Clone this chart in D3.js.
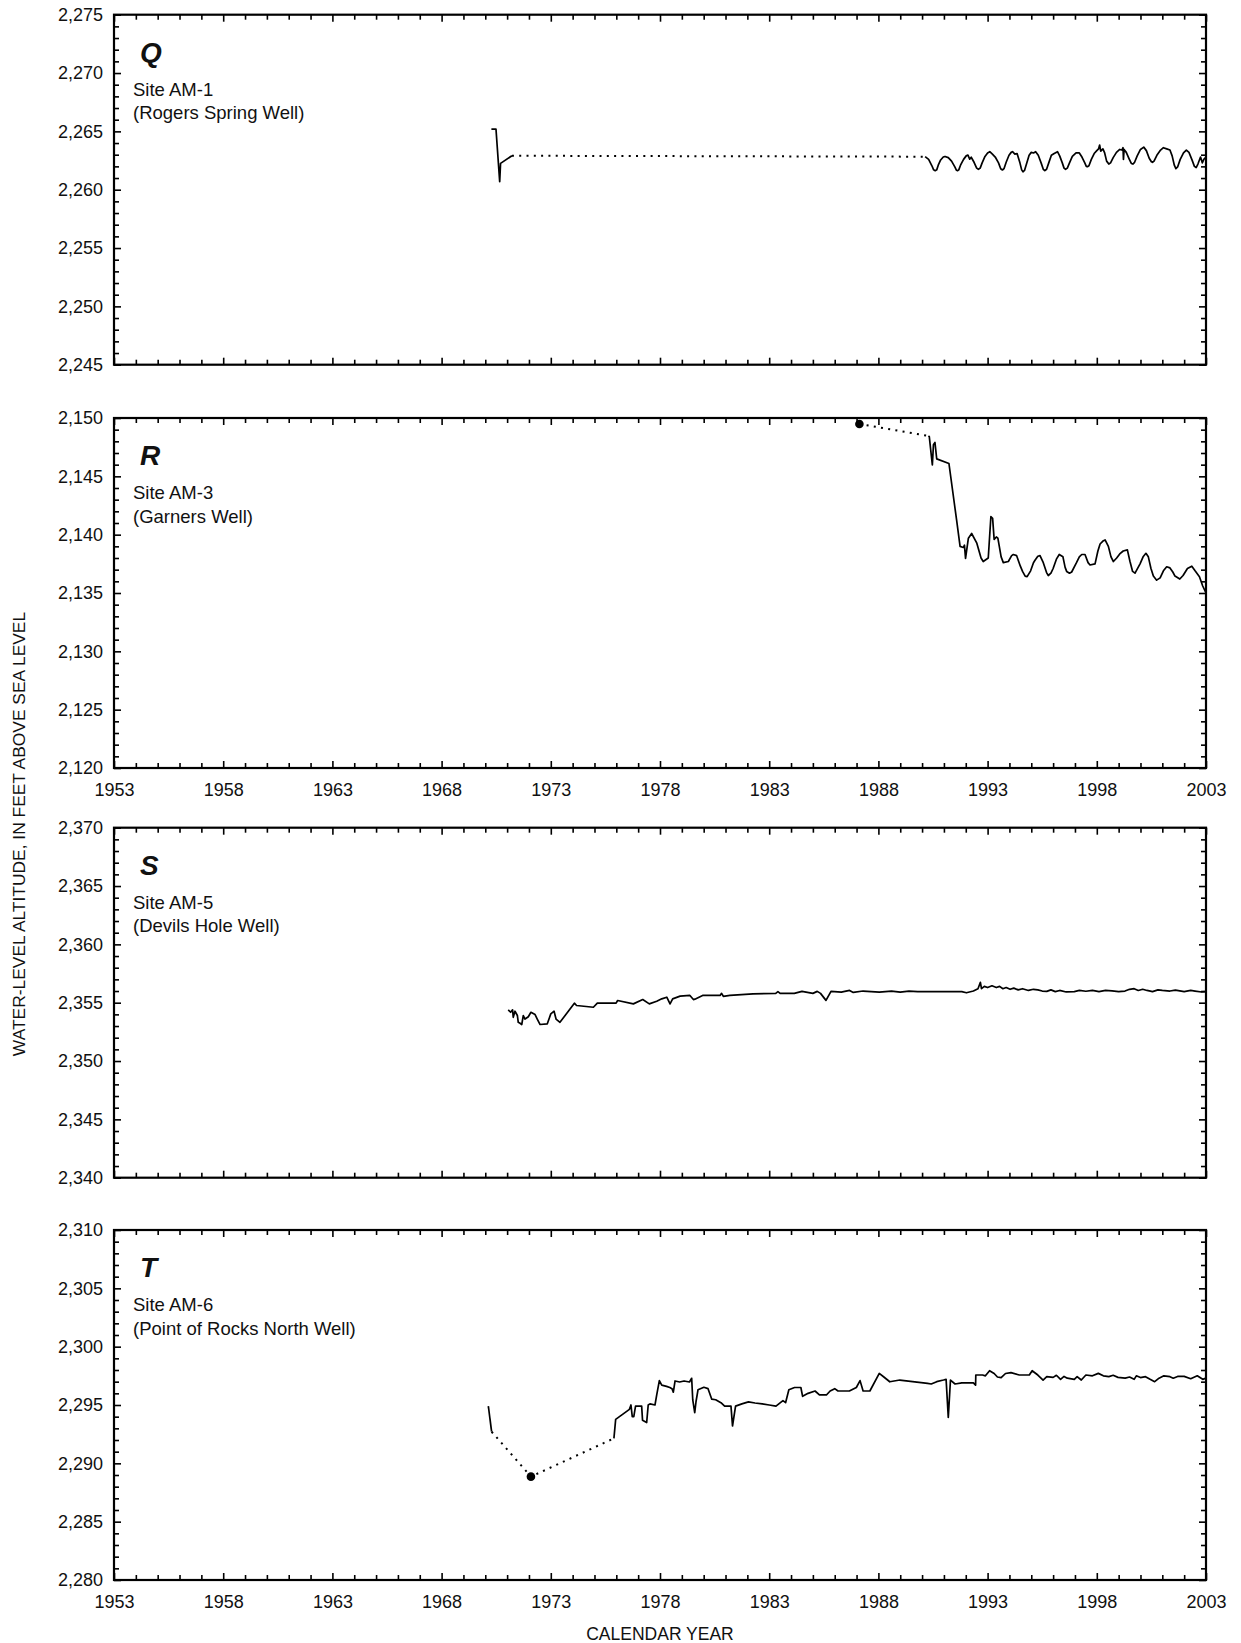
<!DOCTYPE html>
<html><head><meta charset="utf-8">
<script src="https://cdn.jsdelivr.net/npm/d3@7"></script>
<style>
html,body{margin:0;padding:0;background:#fff;}
svg{display:block;font-family:"Liberation Sans",Arial,Helvetica,sans-serif;}
</style></head>
<body>
<script>
// ---------- DATA ----------
const yearDomain = [1953, 2003];
const yearTickLabels = [1953, 1958, 1963, 1968, 1973, 1978, 1983, 1988, 1993, 1998, 2003];
const panelLetters = ["Q", "R", "S", "T"];
const siteNames = ["Site AM-1", "Site AM-3", "Site AM-5", "Site AM-6"];
const wellNames = ["(Rogers Spring Well)", "(Garners Well)", "(Devils Hole Well)", "(Point of Rocks North Well)"];
const yDomains = [[2245, 2275], [2120, 2150], [2340, 2370], [2280, 2310]];

// Panel Q — Site AM-1
const qSolidA = [[1970.28,2265.2],[1970.49,2265.2],[1970.66,2260.69],[1970.7,2262.26],[1971.22,2262.91]];
const qDotted = [[1971.22,2262.91],[1990.14,2262.83]];
const qSolidB = [[1990.14,2262.83],[1990.3,2262.6],[1990.45,2262.05],[1990.53,2261.7],[1990.6,2261.63],[1990.67,2261.7],[1990.74,2262.1],[1990.85,2262.55],[1990.97,2262.8],[1991.05,2262.85],[1991.2,2262.75],[1991.35,2262.45],[1991.5,2261.95],[1991.57,2261.68],[1991.62,2261.63],[1991.68,2261.7],[1991.76,2262.1],[1991.9,2262.6],[1992.02,2262.9],[1992.1,2262.97],[1992.18,2262.62],[1992.25,2262.78],[1992.38,2262.35],[1992.5,2261.85],[1992.58,2261.75],[1992.66,2261.85],[1992.75,2262.3],[1992.88,2262.85],[1993.0,2263.15],[1993.1,2263.26],[1993.22,2263.05],[1993.35,2262.8],[1993.5,2262.3],[1993.6,2261.8],[1993.68,2261.69],[1993.75,2261.8],[1993.85,2262.35],[1993.98,2262.95],[1994.08,2263.2],[1994.14,2263.26],[1994.25,2263.05],[1994.35,2263.1],[1994.48,2262.3],[1994.56,2261.7],[1994.62,2261.54],[1994.69,2261.65],[1994.78,2262.2],[1994.9,2262.95],[1995.0,2263.2],[1995.1,2263.15],[1995.2,2263.26],[1995.32,2262.95],[1995.45,2262.3],[1995.55,2261.75],[1995.62,2261.63],[1995.7,2261.75],[1995.8,2262.3],[1995.92,2262.95],[1996.05,2263.1],[1996.2,2263.26],[1996.3,2262.9],[1996.42,2262.3],[1996.5,2261.85],[1996.57,2261.75],[1996.65,2261.85],[1996.75,2262.3],[1996.88,2262.85],[1997.05,2263.15],[1997.2,2263.15],[1997.32,2262.8],[1997.45,2262.3],[1997.52,2262.0],[1997.57,2261.97],[1997.64,2262.05],[1997.75,2262.6],[1997.88,2263.1],[1998.0,2263.35],[1998.08,2263.5],[1998.13,2263.83],[1998.18,2263.3],[1998.28,2263.5],[1998.36,2263.15],[1998.45,2262.45],[1998.55,2262.2],[1998.63,2262.3],[1998.75,2262.75],[1998.9,2263.2],[1999.05,2263.45],[1999.15,2263.4],[1999.2,2263.6],[1999.22,2262.6],[1999.25,2263.45],[1999.35,2263.2],[1999.48,2262.65],[1999.58,2262.25],[1999.65,2262.2],[1999.73,2262.35],[1999.85,2262.9],[2000.0,2263.45],[2000.15,2263.65],[2000.27,2263.35],[2000.4,2262.7],[2000.5,2262.4],[2000.55,2262.35],[2000.62,2262.45],[2000.75,2262.95],[2000.92,2263.4],[2001.05,2263.6],[2001.2,2263.5],[2001.35,2263.4],[2001.45,2262.9],[2001.55,2262.1],[2001.62,2261.8],[2001.7,2261.95],[2001.82,2262.6],[2001.97,2263.15],[2002.1,2263.4],[2002.22,2263.2],[2002.35,2262.6],[2002.47,2262.0],[2002.55,2261.9],[2002.63,2262.2],[2002.75,2262.8],[2002.83,2262.3],[2002.9,2262.6],[2003.0,2262.8]];

// Panel R — Site AM-3
const rMarker = [[1987.13,2149.49]];
const rDotted = [[1987.13,2149.49],[1990.29,2148.46]];
const rSolid = [[1990.29,2148.46],[1990.33,2148.4],[1990.47,2145.97],[1990.52,2147.7],[1990.59,2147.9],[1990.67,2146.5],[1991.23,2146.1],[1991.58,2141.26],[1991.74,2139.0],[1991.89,2138.9],[1991.94,2139.1],[1991.99,2137.97],[1992.12,2139.7],[1992.27,2140.1],[1992.5,2139.3],[1992.7,2138.0],[1992.8,2137.7],[1993.03,2138.0],[1993.15,2141.54],[1993.23,2141.4],[1993.3,2139.6],[1993.4,2139.8],[1993.47,2139.7],[1993.62,2138.1],[1993.72,2137.6],[1993.95,2137.7],[1994.1,2138.2],[1994.18,2138.3],[1994.33,2138.2],[1994.5,2137.3],[1994.6,2136.85],[1994.72,2136.45],[1994.81,2136.4],[1994.97,2136.9],[1995.1,2137.6],[1995.17,2137.8],[1995.3,2138.15],[1995.4,2138.2],[1995.55,2137.6],[1995.7,2136.75],[1995.78,2136.5],[1995.9,2136.7],[1996.0,2137.1],[1996.15,2137.9],[1996.28,2138.3],[1996.45,2138.1],[1996.55,2137.2],[1996.62,2136.85],[1996.75,2136.7],[1996.85,2136.8],[1997.07,2137.6],[1997.2,2138.1],[1997.31,2138.3],[1997.46,2138.3],[1997.6,2137.6],[1997.69,2137.4],[1997.92,2137.5],[1998.05,2138.6],[1998.15,2139.2],[1998.28,2139.45],[1998.38,2139.55],[1998.53,2139.0],[1998.65,2138.1],[1998.76,2137.7],[1998.91,2138.0],[1999.05,2138.35],[1999.21,2138.6],[1999.4,2138.7],[1999.52,2137.7],[1999.64,2136.85],[1999.75,2136.7],[1999.98,2137.5],[2000.12,2138.1],[2000.25,2138.4],[2000.36,2138.1],[2000.48,2137.1],[2000.59,2136.45],[2000.74,2136.1],[2000.9,2136.3],[2001.05,2136.9],[2001.2,2137.25],[2001.35,2137.15],[2001.48,2136.8],[2001.58,2136.45],[2001.8,2136.2],[2001.95,2136.5],[2002.15,2137.1],[2002.35,2137.3],[2002.5,2136.9],[2002.7,2136.4],[2002.85,2135.6],[2003.0,2135.0]];

// Panel S — Site AM-5
const sSolid = [[1971.05,2354.39],[1971.16,2354.18],[1971.25,2354.39],[1971.28,2353.75],[1971.36,2354.27],[1971.47,2353.9],[1971.51,2353.32],[1971.59,2353.24],[1971.67,2353.13],[1971.74,2353.9],[1971.82,2353.6],[1971.97,2353.8],[1972.09,2354.18],[1972.28,2353.98],[1972.38,2353.6],[1972.51,2353.13],[1972.84,2353.19],[1973.0,2354.04],[1973.15,2354.27],[1973.24,2353.6],[1973.42,2353.32],[1974.08,2354.96],[1974.18,2354.76],[1974.95,2354.61],[1975.13,2354.96],[1975.99,2354.96],[1976.06,2355.19],[1976.78,2354.9],[1977.21,2355.27],[1977.51,2354.9],[1977.85,2355.13],[1978.08,2355.33],[1978.31,2355.47],[1978.46,2354.9],[1978.58,2355.33],[1978.92,2355.56],[1979.37,2355.62],[1979.53,2355.27],[1979.6,2355.3],[1979.95,2355.62],[1980.75,2355.62],[1980.82,2355.8],[1980.9,2355.55],[1981.2,2355.62],[1981.73,2355.7],[1982.26,2355.76],[1983.3,2355.8],[1983.4,2355.95],[1983.5,2355.8],[1984.15,2355.8],[1984.5,2355.97],[1985.0,2355.8],[1985.2,2355.97],[1985.35,2355.8],[1985.6,2355.2],[1985.83,2355.97],[1986.3,2355.9],[1986.68,2356.05],[1986.85,2355.88],[1987.3,2356.0],[1988.04,2355.9],[1988.6,2356.0],[1989.0,2355.9],[1989.4,2356.0],[1989.8,2355.95],[1991.82,2355.95],[1992.03,2355.85],[1992.35,2356.0],[1992.56,2356.2],[1992.67,2356.75],[1992.72,2356.2],[1992.85,2356.4],[1993.0,2356.3],[1993.2,2356.45],[1993.4,2356.3],[1993.55,2356.4],[1993.7,2356.2],[1993.85,2356.3],[1994.03,2356.15],[1994.2,2356.25],[1994.4,2356.1],[1994.6,2356.2],[1994.87,2356.05],[1995.1,2356.15],[1995.3,2356.1],[1995.5,2356.0],[1995.71,2355.97],[1995.9,2356.1],[1996.1,2355.95],[1996.3,2356.05],[1996.6,2355.92],[1996.97,2355.95],[1997.2,2356.05],[1997.5,2355.98],[1997.8,2356.05],[1998.1,2355.95],[1998.4,2356.05],[1998.7,2356.02],[1999.0,2355.95],[1999.29,2356.0],[1999.5,2356.15],[1999.71,2356.2],[1999.9,2356.05],[2000.1,2356.15],[2000.3,2356.05],[2000.55,2355.95],[2000.8,2356.1],[2001.0,2356.05],[2001.35,2356.0],[2001.6,2356.08],[2002.0,2355.95],[2002.3,2356.05],[2002.5,2356.0],[2002.8,2355.92],[2003.0,2355.95]];

// Panel T — Site AM-6
const tSolidA = [[1970.14,2294.91],[1970.29,2292.71]];
const tDotted = [[1970.29,2292.71],[1972.09,2288.86],[1975.89,2292.14]];
const tMarker = [[1972.09,2288.86]];
const tSolidB = [[1975.89,2292.14],[1975.97,2293.77],[1976.6,2294.63],[1976.67,2295.0],[1976.73,2294.0],[1976.8,2294.0],[1976.88,2294.9],[1977.16,2294.9],[1977.2,2293.7],[1977.39,2293.5],[1977.46,2295.0],[1977.54,2295.1],[1977.77,2295.0],[1977.85,2295.86],[1977.97,2297.09],[1978.08,2296.7],[1978.3,2296.6],[1978.45,2296.5],[1978.55,2296.4],[1978.61,2296.1],[1978.69,2297.06],[1978.9,2296.97],[1979.1,2297.06],[1979.35,2296.97],[1979.45,2297.29],[1979.5,2295.43],[1979.59,2294.34],[1979.65,2295.3],[1979.74,2296.3],[1980.01,2296.52],[1980.2,2296.4],[1980.37,2295.5],[1980.55,2295.45],[1980.79,2295.2],[1980.96,2294.9],[1981.25,2294.9],[1981.32,2293.2],[1981.46,2294.9],[1981.75,2295.1],[1982.05,2295.27],[1982.35,2295.17],[1982.68,2295.1],[1983.0,2295.0],[1983.31,2294.9],[1983.63,2295.37],[1983.75,2295.2],[1983.9,2296.3],[1984.16,2296.5],[1984.45,2296.5],[1984.53,2295.74],[1984.78,2296.0],[1985.1,2296.2],[1985.3,2295.86],[1985.62,2295.86],[1985.79,2296.2],[1986.0,2296.4],[1986.15,2296.2],[1986.67,2296.2],[1986.99,2296.5],[1987.16,2297.09],[1987.3,2296.2],[1987.61,2296.2],[1988.04,2297.71],[1988.25,2297.4],[1988.52,2296.99],[1988.98,2297.14],[1990.25,2296.86],[1990.42,2296.8],[1990.67,2297.0],[1990.98,2297.14],[1991.1,2297.2],[1991.2,2293.94],[1991.3,2297.14],[1991.51,2296.8],[1991.82,2296.9],[1992.35,2296.9],[1992.45,2296.7],[1992.46,2297.57],[1992.77,2297.57],[1992.9,2297.5],[1993.09,2297.94],[1993.3,2297.7],[1993.45,2297.4],[1993.62,2297.34],[1993.82,2297.7],[1994.07,2297.77],[1994.45,2297.57],[1994.91,2297.57],[1995.04,2297.94],[1995.3,2297.57],[1995.54,2297.14],[1995.71,2297.43],[1996.0,2297.37],[1996.15,2297.55],[1996.34,2297.2],[1996.5,2297.45],[1996.65,2297.3],[1996.97,2297.2],[1997.1,2297.43],[1997.29,2297.14],[1997.5,2297.57],[1997.8,2297.5],[1998.07,2297.71],[1998.3,2297.5],[1998.55,2297.43],[1998.75,2297.55],[1998.97,2297.37],[1999.3,2297.3],[1999.5,2297.4],[1999.71,2297.2],[1999.81,2297.5],[2000.0,2297.35],[2000.23,2297.43],[2000.44,2297.2],[2000.65,2297.0],[2000.85,2297.3],[2001.07,2297.5],[2001.35,2297.43],[2001.5,2297.3],[2001.7,2297.45],[2002.0,2297.45],[2002.3,2297.25],[2002.6,2297.5],[2002.85,2297.2],[2003.0,2297.3]];

const yAxisTitle = "WATER-LEVEL ALTITUDE, IN FEET ABOVE SEA LEVEL";
const xAxisTitle = "CALENDAR YEAR";

// ---------- LAYOUT ----------
const W = 1241, H = 1643;
const plotLeft = 114, plotRight = 1206;
const panelTops = [14.7, 418, 827.7, 1230];
const panelHeight = 350;
const showYearLabels = [false, true, false, true];

const panels = [
  {solid: [qSolidA, qSolidB], dotted: [qDotted], markers: []},
  {solid: [rSolid], dotted: [rDotted], markers: rMarker},
  {solid: [sSolid], dotted: [], markers: []},
  {solid: [tSolidA, tSolidB], dotted: [tDotted], markers: tMarker}
];

const svg = d3.select("body").append("svg").attr("width", W).attr("height", H);
const x = d3.scaleLinear().domain(yearDomain).range([plotLeft, plotRight]);
const minorYears = d3.range(yearDomain[0], yearDomain[1] + 1, 1).filter(v => !yearTickLabels.includes(v));

const FONT = 18;
const MAJ = 7, MIN = 5;

function styleAxis(g) {
  g.select(".domain").remove();
  g.selectAll(".tick line").attr("stroke", "#000").attr("stroke-width", 1.6);
  g.selectAll(".tick text").attr("fill", "#111").style("font-size", FONT + "px")
   .style("font-family", '"Liberation Sans", Arial, sans-serif');
}

panels.forEach((p, i) => {
  const top = panelTops[i], bottom = top + panelHeight;
  const dom = yDomains[i];
  const y = d3.scaleLinear().domain(dom).range([bottom, top]);
  const g = svg.append("g");
  const majorY = d3.range(dom[0], dom[1] + 1, 5);
  const minorY = d3.range(dom[0], dom[1] + 1, 1).filter(v => !majorY.includes(v));
  const fmt = d3.format(",");

  g.append("g").attr("transform", `translate(${plotLeft},0)`)
    .call(d3.axisLeft(y).tickValues(majorY).tickSize(-MAJ).tickPadding(11).tickFormat(fmt)).call(styleAxis);
  g.append("g").attr("transform", `translate(${plotLeft},0)`)
    .call(d3.axisLeft(y).tickValues(minorY).tickSize(-MIN).tickFormat("")).call(styleAxis);
  g.append("g").attr("transform", `translate(${plotRight},0)`)
    .call(d3.axisRight(y).tickValues(majorY).tickSize(-MAJ).tickFormat("")).call(styleAxis);
  g.append("g").attr("transform", `translate(${plotRight},0)`)
    .call(d3.axisRight(y).tickValues(minorY).tickSize(-MIN).tickFormat("")).call(styleAxis);
  g.append("g").attr("transform", `translate(0,${top})`)
    .call(d3.axisTop(x).tickValues(yearTickLabels).tickSize(-MAJ).tickFormat("")).call(styleAxis);
  g.append("g").attr("transform", `translate(0,${top})`)
    .call(d3.axisTop(x).tickValues(minorYears).tickSize(-MIN).tickFormat("")).call(styleAxis);
  g.append("g").attr("transform", `translate(0,${bottom})`)
    .call(d3.axisBottom(x).tickValues(yearTickLabels).tickSize(-MAJ).tickPadding(15)
      .tickFormat(showYearLabels[i] ? d3.format("d") : "")).call(styleAxis);
  g.append("g").attr("transform", `translate(0,${bottom})`)
    .call(d3.axisBottom(x).tickValues(minorYears).tickSize(-MIN).tickFormat("")).call(styleAxis);

  g.append("rect").attr("x", plotLeft).attr("y", top)
    .attr("width", plotRight - plotLeft).attr("height", panelHeight)
    .attr("fill", "none").attr("stroke", "#000").attr("stroke-width", 2.2);

  const line = d3.line().x(d => x(d[0])).y(d => y(d[1]));
  p.dotted.forEach(arr => {
    g.append("path").attr("d", line(arr)).attr("fill", "none").attr("stroke", "#000")
      .attr("stroke-width", 2).attr("stroke-dasharray", "2,5.3");
  });
  p.solid.forEach(arr => {
    g.append("path").attr("d", line(arr)).attr("fill", "none").attr("stroke", "#000")
      .attr("stroke-width", 1.7).attr("stroke-linejoin", "round");
  });
  g.selectAll("circle.m").data(p.markers).enter().append("circle")
    .attr("cx", d => x(d[0])).attr("cy", d => y(d[1])).attr("r", 4.3).attr("fill", "#000");

  g.append("text").attr("x", plotLeft + 26).attr("y", top + 47)
    .style("font-size", "28px").style("font-weight", "bold").style("font-style", "italic")
    .attr("fill", "#111").text(panelLetters[i]);
  g.append("text").attr("x", plotLeft + 19).attr("y", top + 81.3)
    .style("font-size", "18.5px").attr("fill", "#111").text(siteNames[i]);
  g.append("text").attr("x", plotLeft + 19).attr("y", top + 104.6)
    .style("font-size", "18.5px").attr("fill", "#111").text(wellNames[i]);
});

svg.append("text").attr("transform", "translate(25,834) rotate(-90)")
  .attr("text-anchor", "middle").style("font-size", "17.4px").attr("fill", "#111").text(yAxisTitle);
svg.append("text").attr("x", (plotLeft + plotRight) / 2).attr("y", 1640)
  .attr("text-anchor", "middle").style("font-size", "17.5px").attr("fill", "#111").text(xAxisTitle);
</script>
</body></html>
